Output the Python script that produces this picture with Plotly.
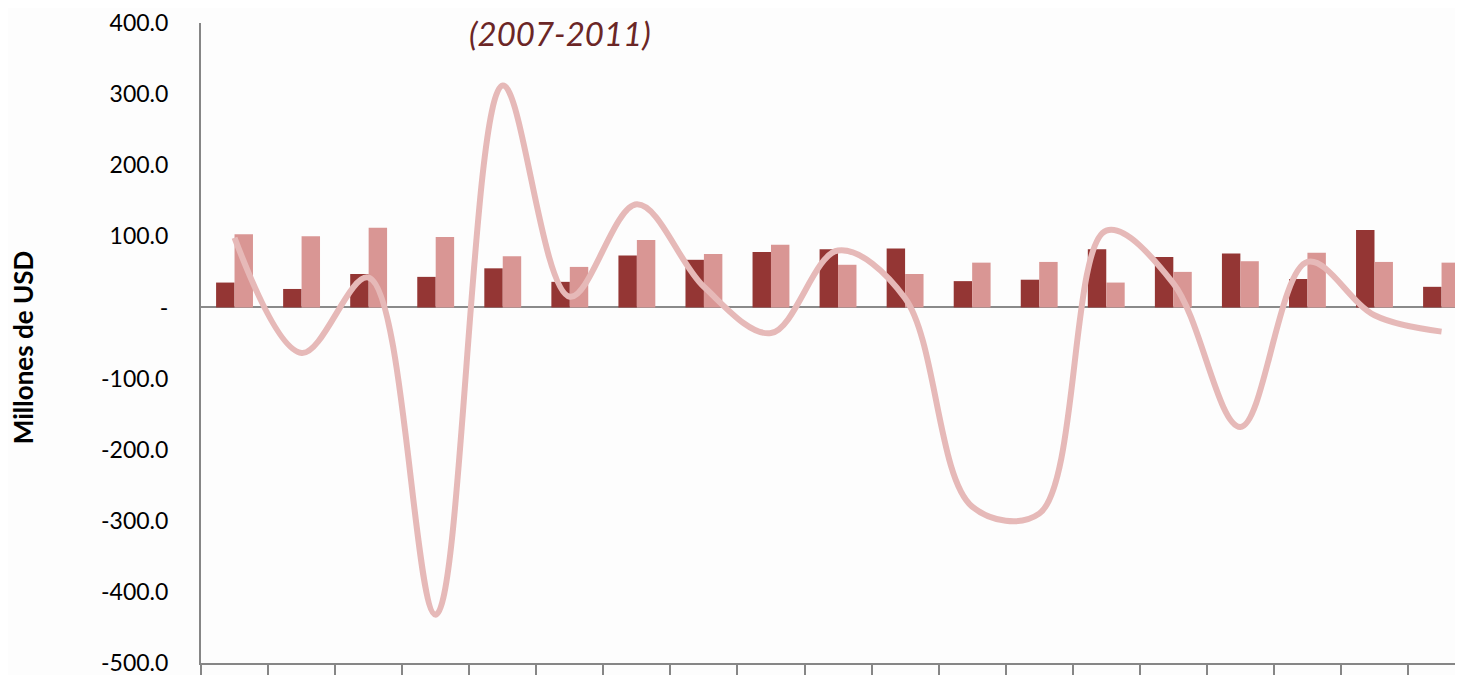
import plotly.graph_objects as go

categories = [str(i) for i in range(1, 20)]
serie_oscura = [35, 26, 47, 43, 55, 36, 73, 67, 78, 82, 83, 37, 39, 82, 71, 76, 40, 109, 29]
serie_clara = [103, 100, 112, 99, 72, 57, 95, 75, 88, 60, 47, 63, 64, 35, 50, 65, 77, 64, 63]
linea = [98, -64, 42, -432, 312, 15, 145, 29, -36, 80, 13, -280, -290, 108, 34, -168, 64, -11, -34]
y_ticks = [400, 300, 200, 100, 0, -100, -200, -300, -400, -500]
y_tick_labels = ["400.0", "300.0", "200.0", "100.0", "-", "-100.0", "-200.0", "-300.0", "-400.0", "-500.0"]

W, H = 1455, 667
L, R, T, B = 193, 0, 14.6, 11.5

fig = go.Figure()
fig.add_trace(go.Bar(x=categories, y=serie_oscura, marker=dict(color="#943634", line=dict(width=0)), showlegend=False))
fig.add_trace(go.Bar(x=categories, y=serie_clara, marker=dict(color="#d99694", line=dict(width=0)), showlegend=False))
fig.add_trace(go.Scatter(x=categories, y=linea, mode="lines",
                         line=dict(color="#e6b9b8", width=6, shape="spline", smoothing=1.0),
                         showlegend=False))

fig.update_layout(
    width=W, height=H,
    margin=dict(l=L, r=R, t=T, b=B, pad=0),
    paper_bgcolor="#fdfdfd", plot_bgcolor="#fdfdfd",
    barmode="group", bargap=0.45, bargroupgap=0,
    font=dict(family="Lato", color="#000000"),
    xaxis=dict(type="category", range=[-0.5, 18.32], showticklabels=False,
               ticks="outside", tickson="boundaries", ticklen=12, tickwidth=2, tickcolor="#868686",
               showline=True, linecolor="#868686", linewidth=2, showgrid=False, zeroline=False),
    yaxis=dict(range=[-500, 400], tickvals=y_ticks, ticktext=y_tick_labels,
               tickfont=dict(family="Lato", size=23, color="#000000"),
               ticks="", ticklabelstandoff=26, ticklabeloverflow="allow",
               showline=True, linecolor="#868686", linewidth=2, showgrid=False,
               zeroline=True, zerolinecolor="#8a8a8a", zerolinewidth=2),
    annotations=[
        dict(text="Millones de USD", xref="paper", yref="paper", x=-0.141, y=0.492,
             textangle=-90, showarrow=False, xanchor="center", yanchor="middle",
             font=dict(family="Lato", size=26, color="#000000", weight="bold")),
        dict(text="<i>(2007-2011)</i>", xref="paper", yref="paper", x=0.2845, y=0.985,
             showarrow=False, xanchor="center", yanchor="middle",
             font=dict(family="Lato", size=33, color="#6b2626")),
    ],
)

fig.write_html("out.html")
